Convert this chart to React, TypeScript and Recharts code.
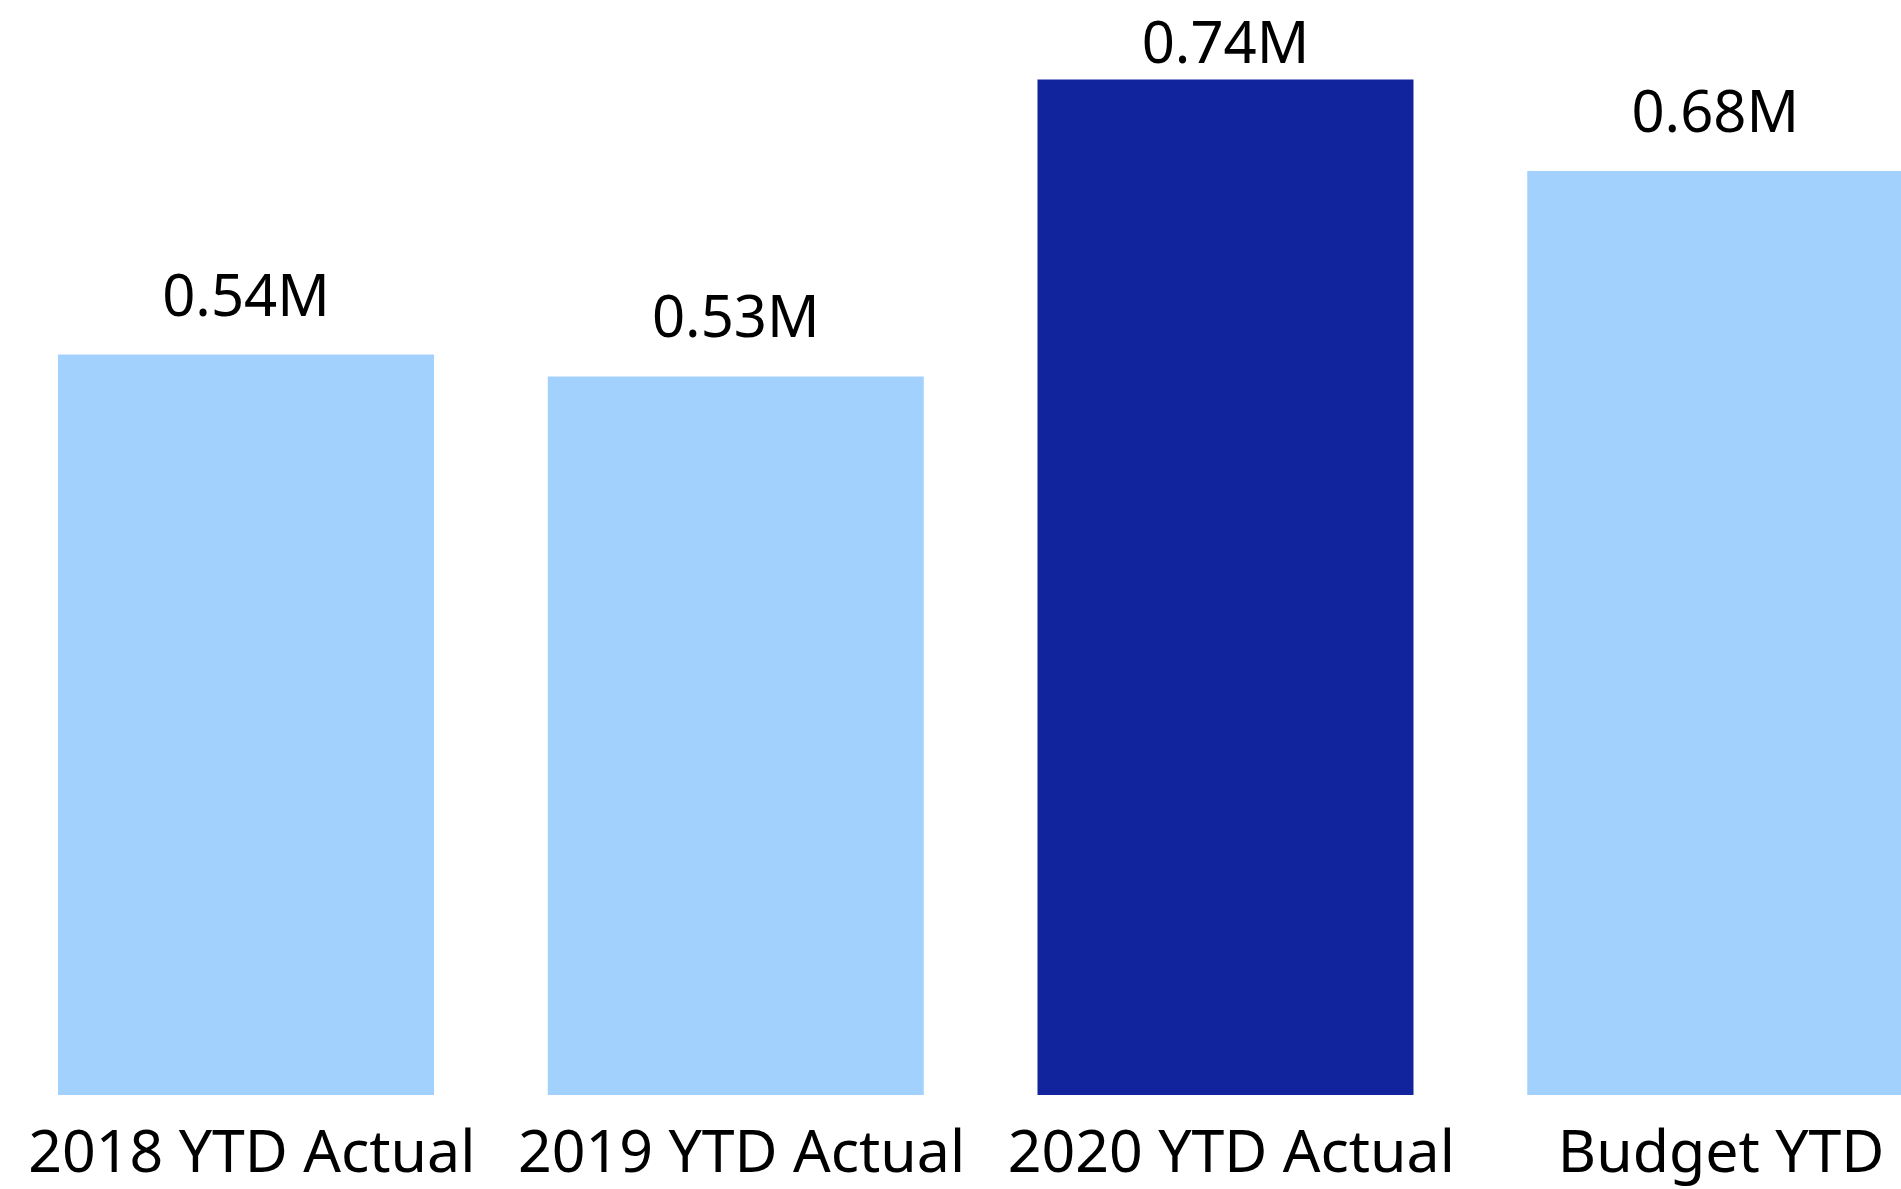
import { BarChart, Bar, XAxis, YAxis, Cell, LabelList } from "recharts";

const categories = ["2018 YTD Actual", "2019 YTD Actual", "2020 YTD Actual", "Budget YTD"];
const values = [0.541, 0.525, 0.742, 0.675];
const highlight = [false, false, true, false];

const data = categories.map((name, i) => ({ name, value: values[i], hl: highlight[i] }));

const FONT = "'Noto Sans', 'Open Sans', sans-serif";
const LIGHT = "#A3D1FD";
const DARK = "#12239E";

const XTick = (props: any) => {
  const { x, y, payload } = props;
  return (
    <text x={x + 6} y={y + 71} textAnchor="middle" fontFamily={FONT} fontSize={59} fill="#000">
      {payload.value}
    </text>
  );
};

const ValueLabel = (props: any) => {
  const { x, y, width, value } = props;
  // keep the label inside the chart when the bar reaches the top
  const baseline = Math.max(Number(y) - 39, 63);
  return (
    <text x={Number(x) + Number(width) / 2} y={baseline} textAnchor="middle" fontFamily={FONT} fontSize={58} fill="#000">
      {`${Number(value).toFixed(2)}M`}
    </text>
  );
};

export default function App() {
  return (
    <div style={{ position: "absolute", left: 0, top: 0, width: 1901, height: 1189, overflow: "hidden", background: "#fff" }}>
      <BarChart width={1960} height={1189} data={data} margin={{ top: 0, right: 0, left: 1, bottom: 0 }} barSize={376}>
        <XAxis dataKey="name" axisLine={false} tickLine={false} tickMargin={0} height={94} tick={<XTick />} interval={0} />
        <YAxis hide domain={[0, 0.8]} />
        <Bar dataKey="value" isAnimationActive={false}>
          {data.map((d, i) => (
            <Cell key={`c-${i}`} fill={d.hl ? DARK : LIGHT} />
          ))}
          <LabelList dataKey="value" content={<ValueLabel />} />
        </Bar>
      </BarChart>
    </div>
  );
}
